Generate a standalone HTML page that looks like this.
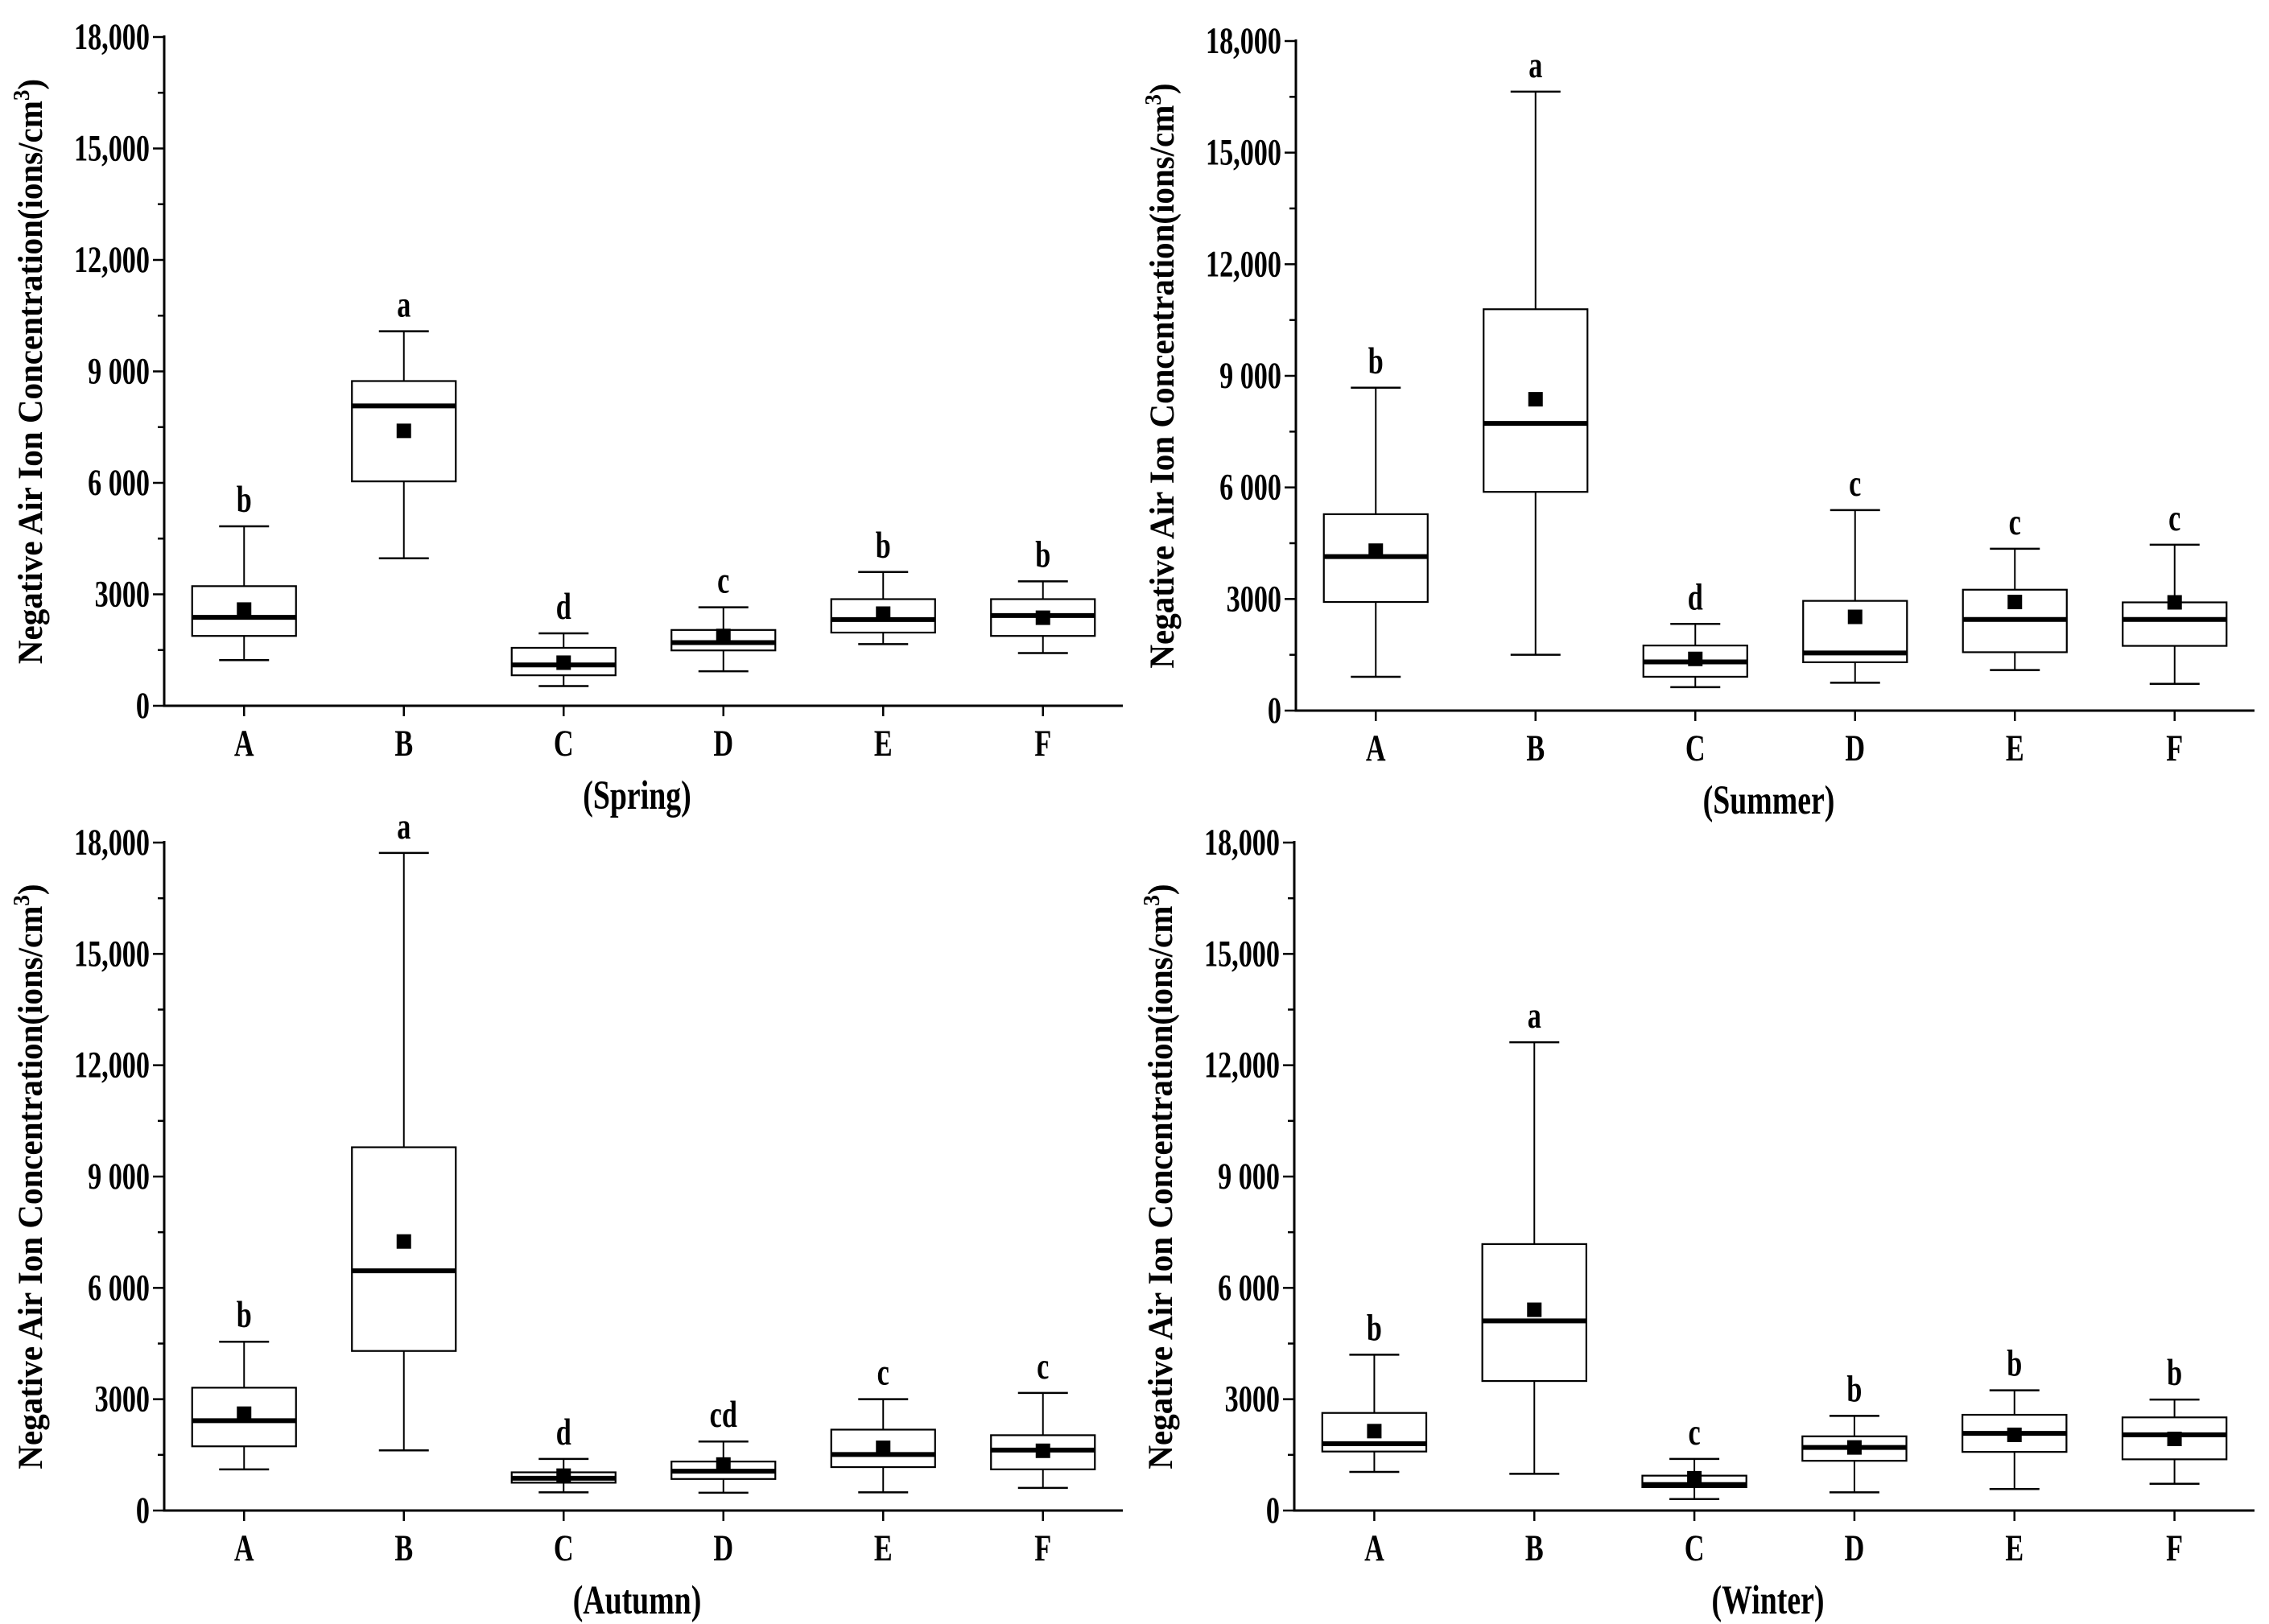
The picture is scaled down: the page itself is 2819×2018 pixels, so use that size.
<!DOCTYPE html>
<html><head><meta charset="utf-8"><style>
html,body{margin:0;padding:0;background:#fff;}
svg{display:block;}
text{font-family:"Liberation Serif",serif;font-weight:bold;fill:#000;}
</style></head><body>
<svg id="chart" width="2819" height="2018" viewBox="0 0 2819 2018" xmlns="http://www.w3.org/2000/svg"></svg>
<script>
const categories = ["A","B","C","D","E","F"];
const yTicks = [0,3000,6000,9000,12000,15000,18000];
const yTickLabels = ["0","3000","6 000","9 000","12,000","15,000","18,000"];
const seasons = ["(Spring)","(Summer)","(Autumn)","(Winter)"];
const springLow = [1230,3970,530,930,1660,1420];
const springQ1 = [1880,6040,820,1490,1970,1880];
const springMed = [2380,8070,1100,1700,2320,2430];
const springQ3 = [3220,8740,1560,2040,2870,2870];
const springHigh = [4830,10080,1950,2650,3600,3350];
const springMean = [2590,7400,1160,1880,2480,2370];
const springLetters = ["b","a","d","c","b","b"];
const summerLow = [910,1500,630,750,1090,720];
const summerQ1 = [2920,5880,910,1300,1570,1740];
const summerMed = [4140,7720,1310,1550,2450,2450];
const summerQ3 = [5280,10790,1750,2950,3250,2910];
const summerHigh = [8680,16640,2330,5390,4350,4460];
const summerMean = [4300,8370,1390,2520,2920,2910];
const summerLetters = ["b","a","d","c","c","c"];
const autumnLow = [1110,1620,490,480,490,610];
const autumnQ1 = [1730,4300,750,850,1170,1110];
const autumnMed = [2420,6460,870,1060,1510,1630];
const autumnQ3 = [3310,9790,1030,1320,2180,2030];
const autumnHigh = [4550,17720,1390,1860,3000,3170];
const autumnMean = [2610,7250,940,1240,1690,1610];
const autumnLetters = ["b","a","d","cd","c","c"];
const winterLow = [1040,990,310,490,580,720];
const winterQ1 = [1590,3490,630,1340,1580,1380];
const winterMed = [1800,5110,700,1700,2080,2040];
const winterQ3 = [2630,7180,940,2000,2580,2510];
const winterHigh = [4200,12620,1390,2550,3240,2990];
const winterMean = [2140,5410,870,1700,2040,1930];
const winterLetters = ["b","a","c","b","b","b"];

const panels = [
 {x0:204,x1:1395,yTop:46,y0:877,low:springLow,q1:springQ1,med:springMed,q3:springQ3,high:springHigh,mean:springMean,letters:springLetters,key:"spring"},
 {x0:1610,x1:2801,yTop:51,y0:883,low:summerLow,q1:summerQ1,med:summerMed,q3:summerQ3,high:summerHigh,mean:summerMean,letters:summerLetters,key:"summer"},
 {x0:204,x1:1395,yTop:1047,y0:1877,low:autumnLow,q1:autumnQ1,med:autumnMed,q3:autumnQ3,high:autumnHigh,mean:autumnMean,letters:autumnLetters,key:"autumn"},
 {x0:1608,x1:2801,yTop:1047,y0:1877,low:winterLow,q1:winterQ1,med:winterMed,q3:winterQ3,high:winterHigh,mean:winterMean,letters:winterLetters,key:"winter"}
];
const NS="http://www.w3.org/2000/svg";
const svg=document.getElementById("chart");
function mk(tag,attrs,parent){const e=document.createElementNS(NS,tag);for(const k in attrs)e.setAttribute(k,attrs[k]);(parent||svg).appendChild(e);return e;}
function txt(parent,x,y,size,anchor,str,rot){
  const t=mk("text",{x:0,y:0,"text-anchor":anchor,"font-size":size,transform:`translate(${x},${y})${rot?' rotate(-90)':''} scale(0.9,1.22)`},parent);
  t.textContent=str;return t;
}

panels.forEach((p,pi)=>{
  const g=mk("g",{});
  
  
  const yMax=18000;
  const y=v=>p.y0-(v/yMax)*(p.y0-p.yTop);
  const band=(p.x1-p.x0)/categories.length;
  const x=i=>p.x0+band*(i+0.5);
  const ya=mk("line",{x1:p.x0,y1:p.yTop-2,x2:p.x0,y2:p.y0+1.5,stroke:"#000","stroke-width":3},g);
  
  
  const xa=mk("line",{x1:p.x0-1.5,y1:p.y0,x2:p.x1,y2:p.y0,stroke:"#000","stroke-width":3},g);
  
  
  yTicks.forEach((t,ti)=>{
    mk("line",{x1:p.x0-14,y1:y(t),x2:p.x0,y2:y(t),stroke:"#000","stroke-width":2.5},g);
    if(ti<yTicks.length-1){const m=(t+yTicks[ti+1])/2;mk("line",{x1:p.x0-8,y1:y(m),x2:p.x0,y2:y(m),stroke:"#000","stroke-width":2.5},g);}
    const tl=txt(g,p.x0-18,y(t)+15,38,"end",yTickLabels[ti]);
    
    
  });
  const yt=mk("text",{x:0,y:0,"text-anchor":"middle","font-size":38,transform:`translate(${p.x0-152},${(p.y0+p.yTop)/2}) rotate(-90) scale(1.08,1.15)`},g);
  
  
  yt.innerHTML='Negative Air Ion Concentration(ions/cm<tspan dy="-14" font-size="25">3</tspan><tspan dy="14">)</tspan>';
  categories.forEach((c,i)=>{
    const cx=x(i);
    mk("line",{x1:cx,y1:p.y0,x2:cx,y2:p.y0+13,stroke:"#000","stroke-width":2.5},g);
    const cl=txt(g,cx,p.y0+62,38,"middle",c);
    
    
    const bg=mk("g",{},g);
    
    
    const bw=band*0.65, cw=62;
    mk("line",{x1:cx,y1:y(p.high[i]),x2:cx,y2:y(p.q3[i]),stroke:"#000","stroke-width":2},bg);
    mk("line",{x1:cx,y1:y(p.q1[i]),x2:cx,y2:y(p.low[i]),stroke:"#000","stroke-width":2},bg);
    mk("line",{x1:cx-cw/2,y1:y(p.high[i]),x2:cx+cw/2,y2:y(p.high[i]),stroke:"#000","stroke-width":2.5},bg);
    mk("line",{x1:cx-cw/2,y1:y(p.low[i]),x2:cx+cw/2,y2:y(p.low[i]),stroke:"#000","stroke-width":2.5},bg);
    mk("rect",{x:cx-bw/2,y:y(p.q3[i]),width:bw,height:y(p.q1[i])-y(p.q3[i]),fill:"#fff",stroke:"#000","stroke-width":2.2},bg);
    mk("line",{x1:cx-bw/2,y1:y(p.med[i]),x2:cx+bw/2,y2:y(p.med[i]),stroke:"#000","stroke-width":6},bg);
    mk("rect",{x:cx-9,y:y(p.mean[i])-9,width:18,height:18,fill:"#000"},bg);
    const lt=txt(g,cx,y(p.high[i])-18,38,"middle",p.letters[i]);
    
    
  });
  const st=txt(g,(p.x0+p.x1)/2-8,p.y0+128,42,"middle",seasons[pi]);
  
  
});
</script>
</body></html>
